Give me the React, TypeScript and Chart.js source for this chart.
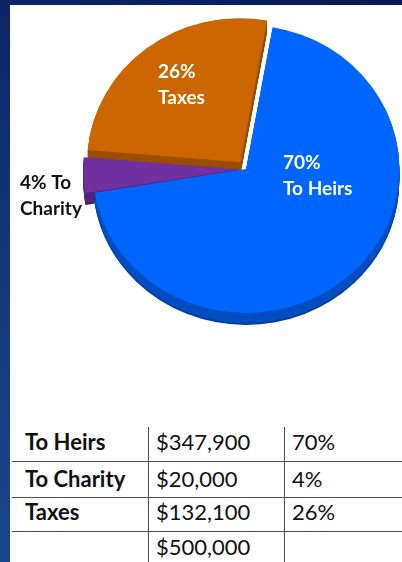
import React, { useEffect, useRef } from "react";
import { Chart, registerables } from "chart.js";

Chart.register(...registerables);

// ---- data ----
const categories = ["To Heirs", "To Charity", "Taxes"];
const amounts = [347900, 20000, 132100];
const percents = [70, 4, 26];
const totalAmount = 500000;
const sliceLabels = [
  ["70%", "To Heirs"],
  ["4% To", "Charity"],
  ["26%", "Taxes"],
];

// ---- style ----
const sliceColors = ["#0066FF", "#7030A0", "#CC6600"];
const sliceOffsets = [0, 20, 34];
const START_ROTATION = 10;
const PIE_RADIUS = 144;
const STRETCH_X = 1.065;
const DEPTH = 12;
const FONT = "Lato, 'Open Sans', sans-serif";
const labelPlacement = [
  { dx: 37, dy: -6, color: "#ffffff" },
  { dx: -226, dy: 14, color: "#111111" },
  { dx: -88, dy: -97, color: "#ffffff" },
];

const fmtMoney = (n: number) => "$" + n.toLocaleString("en-US");

const depthPlugin = {
  id: "depth3d",
  beforeDatasetsDraw(chart: any) {
    const ctx = chart.ctx;
    const meta = chart.getDatasetMeta(0);
    const els = meta.data;
    if (!els.length) return;
    const cx = els[0].x;
    const cy = els[0].y;
    ctx.save();
    ctx.translate(cx, cy);
    ctx.scale(STRETCH_X, 1);
    ctx.translate(-cx, -cy);
    for (let k = DEPTH; k >= 1; k--) {
      els.forEach((el: any) => {
        ctx.save();
        ctx.translate(0, k);
        ctx.filter = k > DEPTH - 2 ? "brightness(0.62)" : "brightness(0.76)";
        el.draw(ctx);
        ctx.restore();
      });
    }
  },
  afterDatasetsDraw(chart: any) {
    chart.ctx.restore();
  },
  afterDraw(chart: any) {
    const ctx = chart.ctx;
    const els = chart.getDatasetMeta(0).data;
    if (!els.length) return;
    const cx = els[0].x;
    const cy = els[0].y;
    ctx.save();
    ctx.font = `bold 19px ${FONT}`;
    ctx.textAlign = "left";
    ctx.textBaseline = "middle";
    sliceLabels.forEach((lines, i) => {
      const p = labelPlacement[i];
      ctx.fillStyle = p.color;
      lines.forEach((line, j) => {
        ctx.fillText(line, cx + p.dx, cy + p.dy + j * 26);
      });
    });
    ctx.restore();
  },
};

const rowTops = [425, 461, 495, 530];
const rowHeights = [34, 36, 34, 34];
const colLefts = [25, 156, 292];
const hLines = [461, 497, 531];
const vLines = [148, 284];

export default function App() {
  const canvasRef = useRef<HTMLCanvasElement | null>(null);

  useEffect(() => {
    const canvas = canvasRef.current;
    if (!canvas) return;
    const chart = new Chart(canvas, {
      type: "pie",
      data: {
        labels: categories,
        datasets: [
          {
            data: amounts,
            backgroundColor: sliceColors,
            borderWidth: 0,
            offset: sliceOffsets,
            clip: false as any,
          },
        ],
      },
      options: {
        responsive: false,
        animation: false,
        devicePixelRatio: 1,
        rotation: START_ROTATION,
        radius: PIE_RADIUS,
        layout: { padding: { left: 90, right: 0, top: 0, bottom: 12 } },
        plugins: {
          legend: { display: false },
          tooltip: { enabled: false },
        },
      } as any,
      plugins: [depthPlugin],
    });
    return () => chart.destroy();
  }, []);

  const rows: string[][] = [
    ...categories.map((c, i) => [c, fmtMoney(amounts[i]), `${percents[i]}%`]),
    ["", fmtMoney(totalAmount), ""],
  ];

  return (
    <div
      style={{
        position: "absolute",
        left: 0,
        top: 0,
        width: 402,
        height: 562,
        overflow: "hidden",
        background: "linear-gradient(20deg, #1b468e 0%, #133677 50%, #06185a 100%)",
      }}
    >
      <div
        style={{
          position: "absolute",
          left: 10,
          top: 5,
          right: 0,
          bottom: 0,
          background: "#ffffff",
        }}
      />
      <canvas
        ref={canvasRef}
        width={402}
        height={350}
        style={{ position: "absolute", left: 0, top: 0, width: 402, height: 350 }}
      />
      {hLines.map((y) => (
        <div
          key={"h" + y}
          style={{ position: "absolute", left: 12, right: 0, top: y, height: 1, background: "#505050" }}
        />
      ))}
      {vLines.map((x) => (
        <div
          key={"v" + x}
          style={{ position: "absolute", left: x, width: 1, top: 427, bottom: 0, background: "#505050" }}
        />
      ))}
      {rows.map((row, r) =>
        row.map((cell, c) => (
          <div
            key={r + "-" + c}
            style={{
              position: "absolute",
              left: colLefts[c],
              top: rowTops[r],
              height: rowHeights[r],
              lineHeight: rowHeights[r] + "px",
              fontFamily: FONT,
              fontSize: 22,
              fontWeight: c === 0 ? 700 : 400,
              color: "#111111",
              whiteSpace: "nowrap",
            }}
          >
            {cell}
          </div>
        ))
      )}
    </div>
  );
}
